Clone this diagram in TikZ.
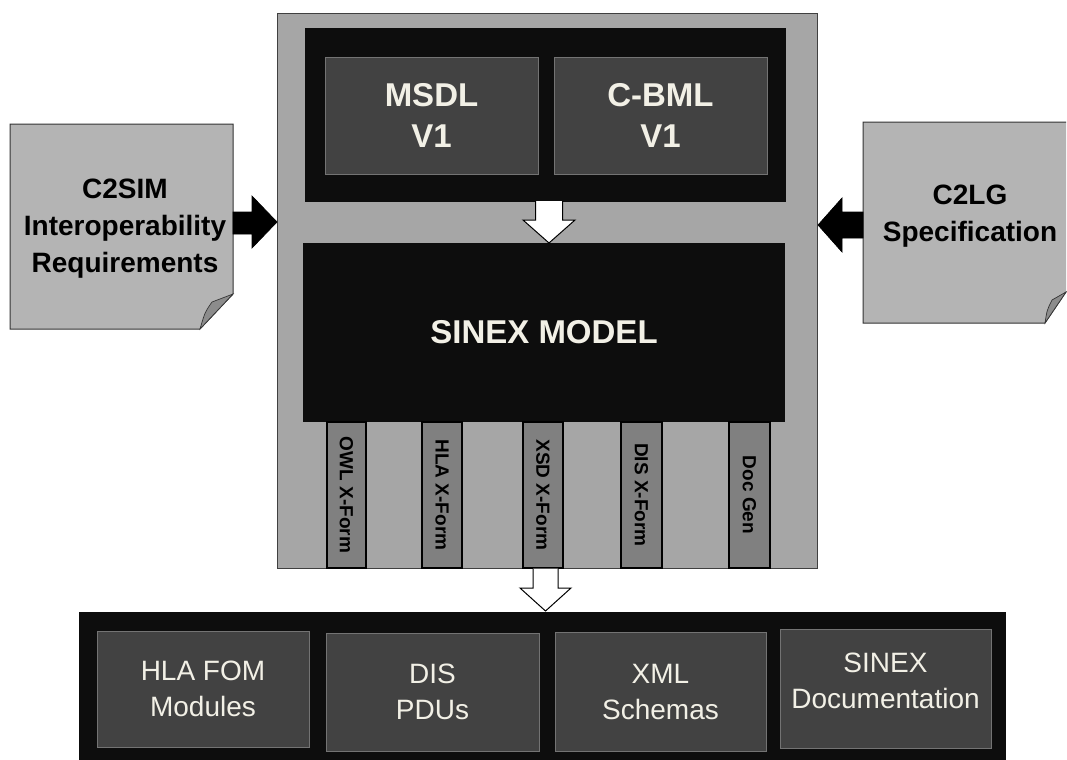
\documentclass[tikz,border=0pt]{standalone}
\usepackage{fontspec}
\setmainfont{Liberation Sans}
\usetikzlibrary{fit}
\definecolor{panel}{HTML}{A6A6A6}
\definecolor{ink}{HTML}{0D0D0D}
\definecolor{tile}{HTML}{424242}
\definecolor{paper}{HTML}{B4B4B4}
\definecolor{curl}{HTML}{8C8C8C}
\definecolor{bar}{HTML}{808080}
\definecolor{cream}{HTML}{F2F0E6}
\begin{document}
\begin{tikzpicture}[x=0.75pt,y=-0.75pt,
  frame/.style={fill=panel,draw=black!75,line width=0.75pt,inner sep=0pt},
  blackbox/.style={fill=ink,draw=none,inner sep=0pt},
  tilebox/.style={fill=tile,draw=black!55,line width=0.5pt,inner sep=0pt},
  boldlabel/.style={text=cream,align=center,inner sep=0pt,
    font=\bfseries\fontsize{24.75}{30.75}\selectfont},
  plainlabel/.style={text=cream,align=center,inner sep=0pt,
    font=\fontsize{21}{27}\selectfont},
  xform/.style={fill=bar,draw=black,line width=1pt,inner sep=0pt},
  xlabel/.style={rotate=-90,inner sep=0pt,font=\bfseries\fontsize{14.25}{16}\selectfont},
  sheet/.style={fill=paper,draw=black!80,line width=0.75pt},
  sheetcurl/.style={fill=curl,draw=black!80,line width=0.5pt},
  sheettext/.style={align=center,inner sep=0pt,font=\bfseries\fontsize{21}{27.75}\selectfont},
  solidarrow/.style={fill=black,draw=black,line width=0.5pt},
  hollowarrow/.style={fill=white,draw=black,line width=0.75pt,line join=miter},
]
\useasboundingbox (0,0) rectangle (1067,760);

% ---- central panel ----
\node[frame,fit={(277,13) (817,568)}] (panel) {};
\node[blackbox,fit={(305,28) (786,202)}] (inputs) {};
\node[tilebox,fit={(325,57) (538,174)}] (msdl) {};
\node[tilebox,fit={(554,57) (767,174)}] (cbml) {};
\node[boldlabel] (msdlt) at (msdl.center) {MSDL\\V1};
\node[boldlabel] (cbmlt) at (cbml.center) {C-BML\\V1};
\node[blackbox,fit={(303,243) (785,422)}] (sinex) {};
\node[boldlabel] (sinext) at (sinex.center) {SINEX MODEL};

% transforms hanging below the model
\node[xform,fit={(327,422) (366,568)}] (owl) {};
\node[xform,fit={(422,422) (462,568)}] (hla) {};
\node[xform,fit={(523,422) (563,568)}] (xsd) {};
\node[xform,fit={(621,422) (662,568)}] (dis) {};
\node[xform,fit={(729,422) (770,568)}] (doc) {};
\node[xlabel] (owlt) at (owl.center) {OWL X-Form};
\node[xlabel] (hlat) at (hla.center) {HLA X-Form};
\node[xlabel] (xsdt) at (xsd.center) {XSD X-Form};
\node[xlabel] (dist) at (dis.center) {DIS X-Form};
\node[xlabel] (doct) at (doc.center) {Doc Gen};

% hollow arrow: inputs -> model
\draw[hollowarrow] (535.5,201) -- (535.5,220) -- (523,220) -- (549,243)
  -- (575,220) -- (562.5,220) -- (562.5,201);

% ---- products ----
\node[blackbox,fit={(79,612) (1006,760)}] (products) {};
\node[tilebox,fit={(97,631) (309,747)}] (fom) {};
\node[tilebox,fit={(326,633) (539,751)}] (pdu) {};
\node[tilebox,fit={(555,632) (766,751)}] (xml) {};
\node[tilebox,fit={(780,629) (991,748)}] (docs) {};
\node[plainlabel] (fomt) at (fom.center) {HLA FOM\\Modules};
\node[plainlabel] (pdut) at (pdu.center) {DIS\\PDUs};
\node[plainlabel] (xmlt) at (xml.center) {XML\\Schemas};
\node[plainlabel] (docst) at ([yshift=6]docs.center) {SINEX\\Documentation};

% hollow arrow: panel -> products
\draw[hollowarrow] (533,568.5) -- (533,588) -- (520,588) -- (545.5,611)
  -- (571,588) -- (558,588) -- (558,568.5);

% ---- source documents ----
\draw[sheet] (10,124) -- (233,124) -- (233,294) -- (200,329) -- (10,329) -- cycle;
\draw[sheetcurl] (233,294) -- (212,302) .. controls (205,312) .. (200,329) -- cycle;
\node[sheettext] (req) at (125,229) {C2SIM\\Interoperability\\Requirements};

\draw[sheet] (1066,122) -- (863,122) -- (863,323) -- (1045,323) -- (1066,292);
\draw[sheetcurl] (1066,292) -- (1052,300) .. controls (1047,310) .. (1045,323) -- cycle;
\node[sheettext] (c2lg) at (970,216) {C2LG\\Specification};

% solid arrows into the panel
\draw[solidarrow] (233,212) -- (252,212) -- (252,196) -- (277,222) -- (252,248)
  -- (252,234) -- (233,234) -- cycle;
\draw[solidarrow] (863,212) -- (842,212) -- (842,198) -- (818,225) -- (842,252)
  -- (842,238) -- (863,238) -- cycle;
\end{tikzpicture}
\end{document}
